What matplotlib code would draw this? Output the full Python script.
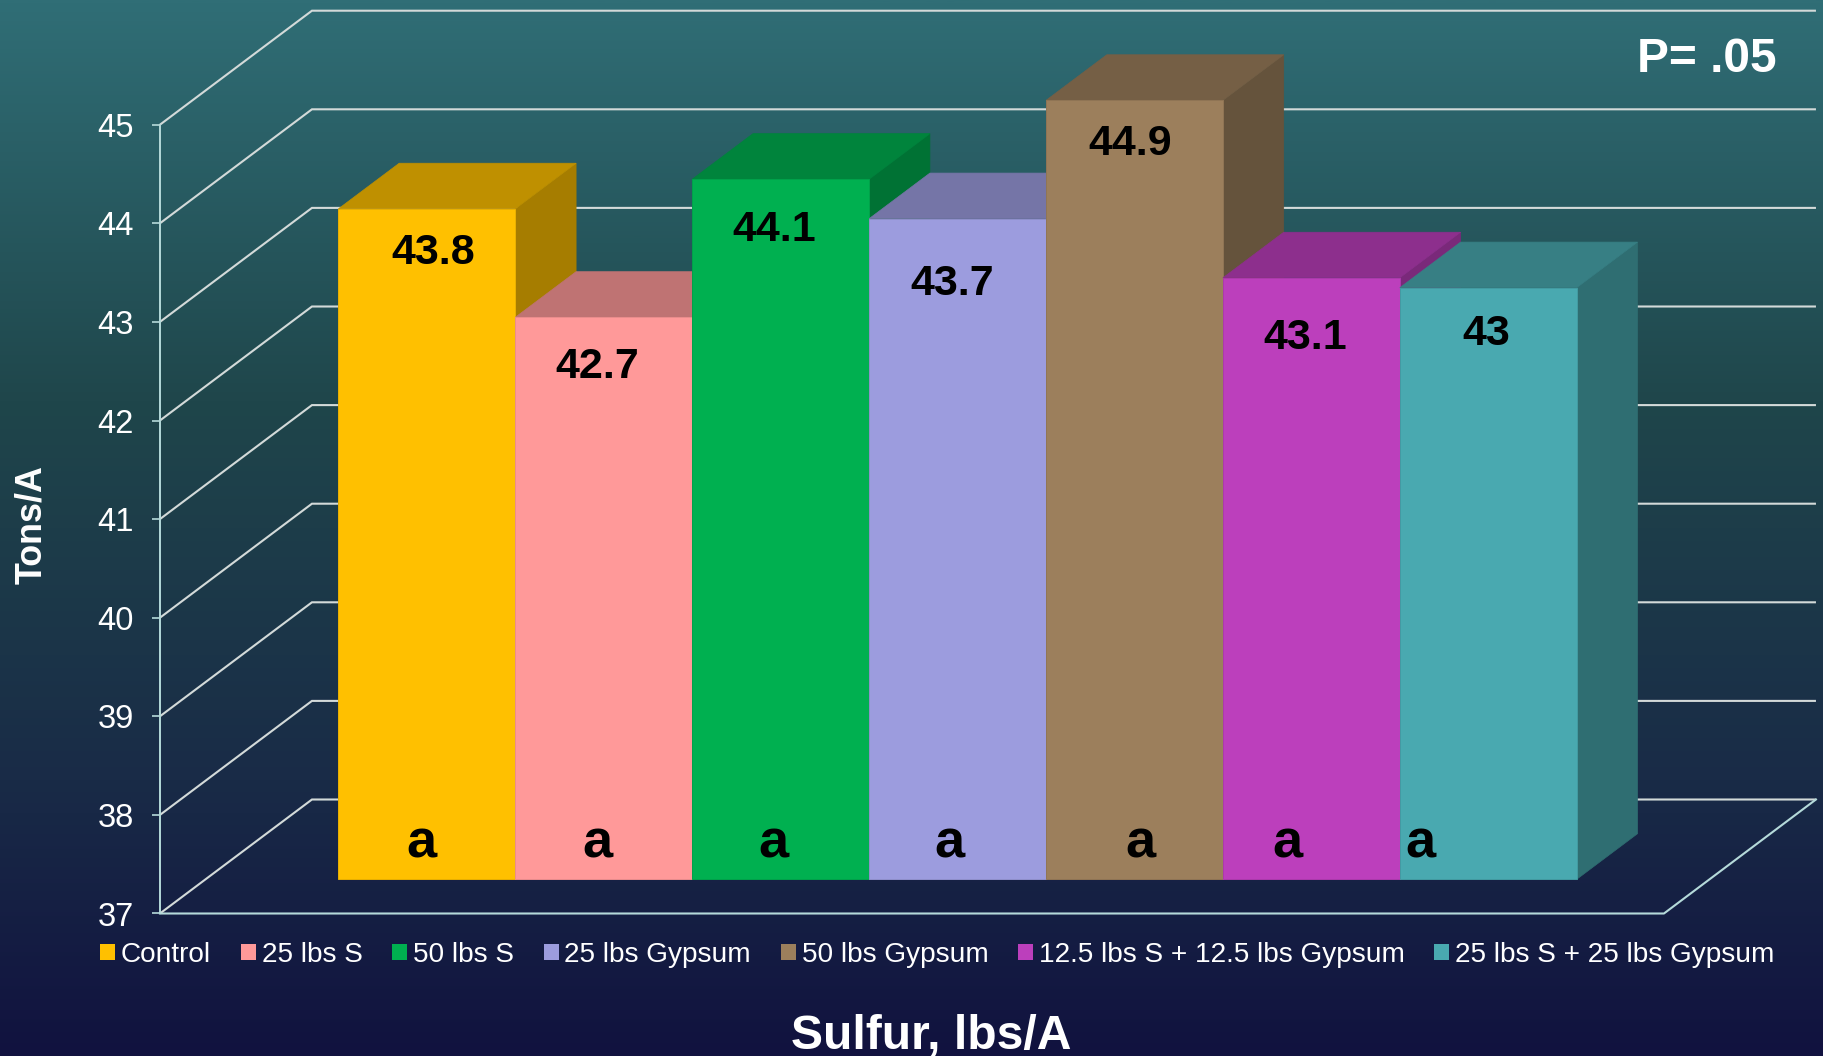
import numpy as np
import matplotlib
matplotlib.use("Agg")
import matplotlib.pyplot as plt
from matplotlib.colors import LinearSegmentedColormap, to_rgb
from matplotlib.patches import Polygon, Patch

plt.rcParams['font.family'] = ['Liberation Sans', 'DejaVu Sans']

treatments = ["Control", "25 lbs S", "50 lbs S", "25 lbs Gypsum", "50 lbs Gypsum",
              "12.5 lbs S + 12.5 lbs Gypsum", "25 lbs S + 25 lbs Gypsum"]
tons = [43.8, 42.7, 44.1, 43.7, 44.9, 43.1, 43.0]
value_text = ["43.8", "42.7", "44.1", "43.7", "44.9", "43.1", "43"]
letters = ["a", "a", "a", "a", "a", "a", "a"]
y_ticks = [37, 38, 39, 40, 41, 42, 43, 44, 45]
colors = ["#FFC000", "#FF9999", "#00B050", "#9C9CDE", "#9C7F5C", "#BC3FBC", "#49A9B0"]

# px offsets of the labels, they are not centred on the bars in the original
value_off = [(6, -44), (-7, -50), (-6, -51), (-5, -65), (-4, -44), (-6, -60), (-2, -46)]
letter_off = [(-5, 22), (-6, 22), (-7, 22), (-8, 22), (6, 22), (-24, 22), (-68, 22)]

W, H = 1824, 1056
BAR_W = 176.9   # px per bar
UNIT = 98.6     # px per ton
X0, Y0 = 338.4, 879.3   # front face of first bar, bottom

# fake 3d: depth 0 = front of the floor, 1 = back wall, bars stand from .3 to .7
DX = 152 / BAR_W
DY = 114 / UNIT
WALL_L = -0.751
WALL_R = 7.751


def proj(x, v, d):
    return x + (d - 0.3) * DX, v + (d - 0.3) * DY


def shade(c, f):
    return tuple(f * k for k in to_rgb(c))


fig = plt.figure(figsize=(W / 100, H / 100), dpi=100)
ax = fig.add_axes([0, 0, 1, 1])
ax.set_xlim(-X0 / BAR_W, (W - X0) / BAR_W)
ax.set_ylim(37 - (H - Y0) / UNIT, 37 + Y0 / UNIT)
ax.patch.set_visible(False)

# background
bg = LinearSegmentedColormap.from_list("bg", [(0, "#306E76"), (0.38, "#1F464B"),
                                              (0.74, "#192B47"), (1, "#11123F")])
bg_ax = fig.add_axes([0, 0, 1, 1], zorder=-1)
bg_ax.imshow(np.linspace(0, 1, 512).reshape(-1, 1), cmap=bg, aspect="auto")
bg_ax.axis("off")

# walls
grid_col = "#D3DAD9"
floor_col = "#B5DADA"
for v in y_ticks:
    a = proj(WALL_L, v, 0)
    b = proj(WALL_L, v, 1)
    c = proj(WALL_R, v, 1)
    ax.plot([a[0], b[0], c[0]], [a[1], b[1], c[1]], color=grid_col, lw=1.5, zorder=1,
            solid_joinstyle="miter", solid_capstyle="butt")
a = proj(WALL_L, 37, 0)
b = proj(WALL_R, 37, 0)
c = proj(WALL_R, 37, 1)
ax.plot([a[0], b[0], c[0]], [a[1], b[1], c[1]], color=floor_col, lw=1.5, zorder=2)

# y axis sits on the front corner of the wall
for s in ["top", "right", "bottom"]:
    ax.spines[s].set_visible(False)
ax.spines["left"].set_position(("data", a[0]))
ax.spines["left"].set_bounds(a[1], proj(WALL_L, 45, 0)[1])
ax.spines["left"].set_color(floor_col)
ax.spines["left"].set_linewidth(1.4)
ax.set_xticks([])
ax.set_yticks([proj(WALL_L, v, 0)[1] for v in y_ticks], labels=[str(v) for v in y_ticks])
ax.tick_params(axis="y", length=5.8, width=1.2, color=floor_col, labelcolor="white",
               labelsize=23.5, pad=13)

# bars, left to right so later tops cover earlier sides
for i, (v, col) in enumerate(zip(tons, colors)):
    x1, x2 = i, i + 1
    front = [(x1, 37), (x2, 37), (x2, v), (x1, v)]
    top = [(x1, v), (x2, v), proj(x2, v, 0.7), proj(x1, v, 0.7)]
    side = [(x2, 37), proj(x2, 37, 0.7), proj(x2, v, 0.7), (x2, v)]
    ax.add_patch(Polygon(side, fc=shade(col, 0.65), ec=shade(col, 0.65), lw=0.5, zorder=3 + i))
    ax.add_patch(Polygon(top, fc=shade(col, 0.75), ec=shade(col, 0.75), lw=0.5, zorder=3 + i))
    ax.add_patch(Polygon(front, fc=col, ec=shade(col, 0.92), lw=0.7, zorder=3 + i))

for i, v in enumerate(tons):
    ax.annotate(value_text[i], xy=(i + 0.5, v), xytext=value_off[i], textcoords="offset pixels",
                ha="center", va="center", fontsize=31, fontweight="bold", color="black", zorder=20)
    ax.annotate(letters[i], xy=(i + 0.5, 37), xytext=letter_off[i], textcoords="offset pixels",
                ha="center", va="baseline", fontsize=39, fontweight="bold", color="black", zorder=20)

# legend
handles = [Patch(fc=c, ec="none", label=t) for c, t in zip(colors, treatments)]
ax.legend(handles=handles, ncol=7, loc="center left", bbox_to_anchor=(100 / W, 1 - 955 / H),
          bbox_transform=fig.transFigure, frameon=False, fontsize=20.2, labelcolor="white",
          handlelength=0.535, handleheight=0.535, handletextpad=0.21, columnspacing=1.056,
          borderpad=0, borderaxespad=0)

fig.text(32 / W, 1 - 525 / H, "Tons/A", rotation=90, ha="center", va="center",
         color="white", fontsize=25.8, fontweight="bold")
fig.text(931.5 / W, 1 - 1048 / H, "Sulfur, lbs/A", ha="center", va="baseline",
         color="white", fontsize=34.6, fontweight="bold")
fig.text(1707 / W, 1 - 60 / H, "P= .05", ha="center", va="center",
         color="white", fontsize=34.5, fontweight="bold")

fig.savefig("out.png", dpi=100)
